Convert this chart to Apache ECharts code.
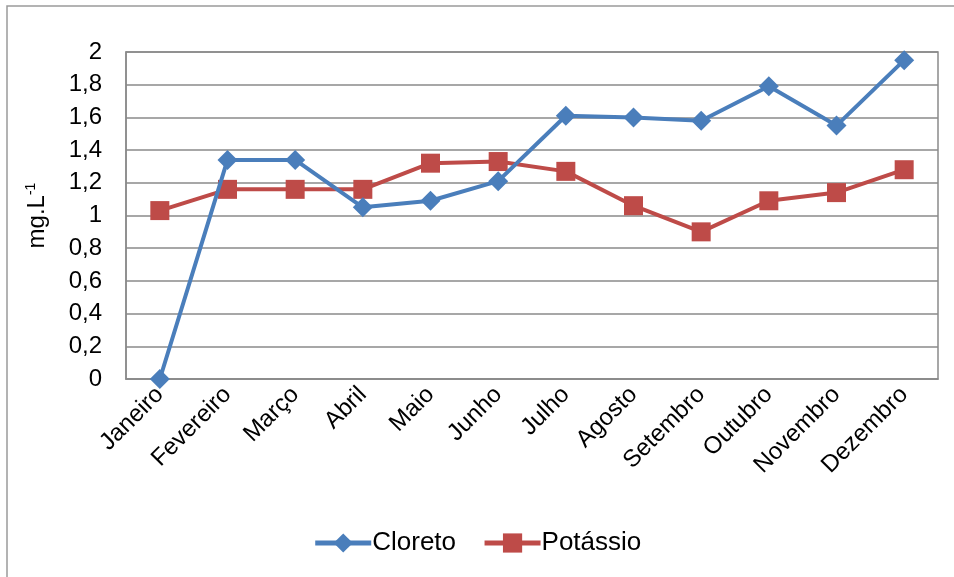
<!DOCTYPE html>
<html>
<head>
<meta charset="utf-8">
<style>
  html, body { margin: 0; padding: 0; background: #fff; }
  #chart { width: 954px; height: 577px; }
</style>
<script src="https://cdn.jsdelivr.net/npm/echarts@6/dist/echarts.min.js"></script>
</head>
<body>
<div id="chart"></div>
<script>
// Monthly concentrations (mg/L)
const months = ['Janeiro', 'Fevereiro', 'Março', 'Abril', 'Maio', 'Junho',
                'Julho', 'Agosto', 'Setembro', 'Outubro', 'Novembro', 'Dezembro'];
const cloreto  = [0.00, 1.34, 1.34, 1.05, 1.09, 1.21, 1.61, 1.60, 1.58, 1.79, 1.55, 1.95];
const potassio = [1.03, 1.16, 1.16, 1.16, 1.32, 1.33, 1.27, 1.06, 0.90, 1.09, 1.14, 1.28];
const yTicks = { min: 0, max: 2, step: 0.2 };

const FONT = '"Liberation Sans", Arial, sans-serif';
const GRID_GREY = '#8a8a8a';
const BLUE = '#4a7ebb';
const RED = '#be4b48';

const chart = echarts.init(document.getElementById('chart'), null, { renderer: 'canvas' });

chart.setOption({
  backgroundColor: '#ffffff',
  animation: false,
  textStyle: { fontFamily: FONT },
  graphic: [{
    // outer frame of the chart area (top and left edges)
    type: 'rect',
    shape: { x: 7, y: 6, width: 1000, height: 650 },
    style: { fill: 'none', stroke: '#9a9a9a', lineWidth: 1.5 },
    silent: true
  }],
  grid: {
    left: 126, top: 52, right: 16, bottom: 198,
    show: true, borderColor: GRID_GREY, borderWidth: 1.5, backgroundColor: 'transparent'
  },
  legend: {
    bottom: 16,
    left: 'center',
    itemWidth: 56,
    itemHeight: 24,
    itemGap: 26,
    lineStyle: { width: 5 },
    textStyle: { fontSize: 26, color: '#000', fontFamily: FONT, padding: [0, 0, 0, -4] },
    data: ['Cloreto', 'Potássio']
  },
  xAxis: {
    type: 'category',
    data: months,
    boundaryGap: true,
    axisLine: { show: true, lineStyle: { color: GRID_GREY, width: 1.5 } },
    axisTick: { show: false },
    axisLabel: {
      rotate: 45,
      fontSize: 24,
      color: '#000',
      margin: 12,
      interval: 0,
      fontFamily: FONT
    }
  },
  yAxis: {
    type: 'value',
    min: yTicks.min,
    max: yTicks.max,
    interval: yTicks.step,
    name: '{b|mg.L}{s|-1}',
    nameLocation: 'middle',
    nameGap: 76,
    nameRotate: 90,
    nameTextStyle: {
      rich: {
        b: { fontSize: 24, color: '#000', fontFamily: FONT },
        s: { fontSize: 14, color: '#000', fontFamily: FONT, verticalAlign: 'top', padding: [0, 0, 12, 0] }
      }
    },
    axisLine: { show: true, lineStyle: { color: GRID_GREY, width: 1.5 } },
    axisTick: { show: false },
    splitLine: { show: true, lineStyle: { color: GRID_GREY, width: 1.5 } },
    axisLabel: {
      fontSize: 24,
      color: '#000',
      margin: 24,
      fontFamily: FONT,
      formatter: v => (Math.round(v * 10) / 10).toString().replace('.', ',')
    }
  },
  series: [
    {
      name: 'Cloreto',
      type: 'line',
      data: cloreto,
      symbol: 'diamond',
      symbolSize: 20,
      lineStyle: { color: BLUE, width: 4 },
      itemStyle: { color: BLUE },
      z: 3
    },
    {
      name: 'Potássio',
      type: 'line',
      data: potassio,
      symbol: 'rect',
      symbolSize: 19,
      lineStyle: { color: RED, width: 4 },
      itemStyle: { color: RED },
      z: 2
    }
  ]
});
</script>
</body>
</html>
